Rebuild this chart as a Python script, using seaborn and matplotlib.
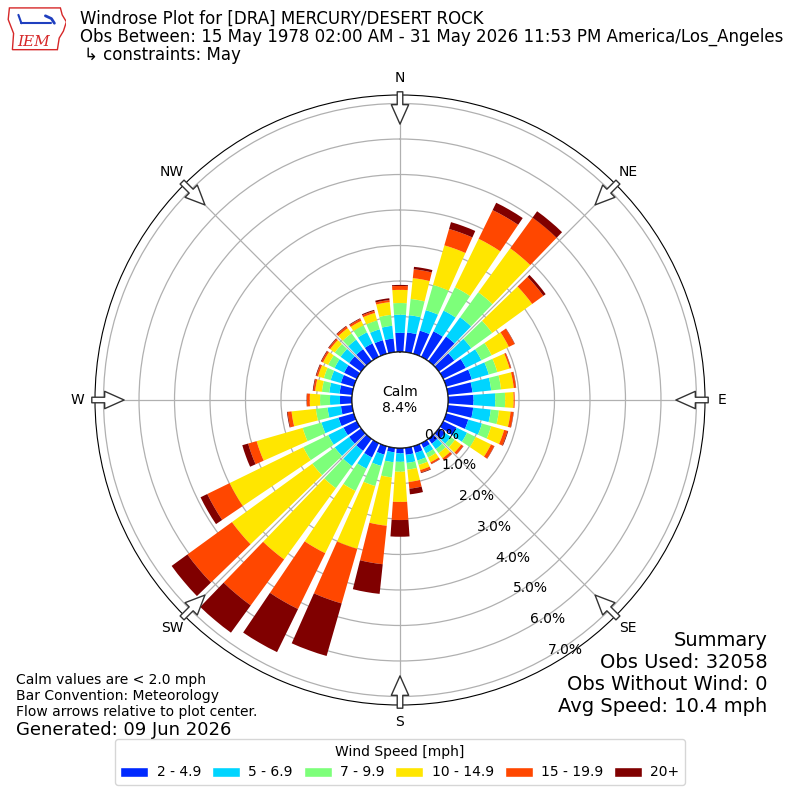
import numpy as np
import matplotlib
matplotlib.use("Agg")
import matplotlib.pyplot as plt
from matplotlib.patches import Patch, Circle, Polygon
import seaborn as sns

# wind directions (deg, meteorological) and percent of obs per speed bin
directions = list(range(0, 360, 10))
speed_bins = ["2 - 4.9", "5 - 6.9", "7 - 9.9", "10 - 14.9", "15 - 19.9", "20+"]

pct_2_5 = [0.54, 0.56, 0.68, 0.80, 0.86, 0.54, 0.71, 0.75, 0.70, 0.72, 0.72, 0.65,
           0.42, 0.22, 0.17, 0.15, 0.20, 0.20, 0.15, 0.13, 0.25, 0.45, 0.42, 0.42,
           0.42, 0.45, 0.32, 0.34, 0.36, 0.38, 0.40, 0.42, 0.42, 0.42, 0.40, 0.39]
pct_5_7 = [0.51, 0.49, 0.60, 0.65, 0.67, 0.59, 0.49, 0.50, 0.53, 0.61, 0.50, 0.40,
           0.33, 0.20, 0.19, 0.17, 0.22, 0.23, 0.24, 0.28, 0.33, 0.35, 0.53, 0.50,
           0.48, 0.50, 0.38, 0.28, 0.29, 0.30, 0.30, 0.30, 0.33, 0.35, 0.32, 0.36]
pct_7_10 = [0.33, 0.46, 0.74, 0.73, 0.87, 0.73, 0.32, 0.25, 0.28, 0.28, 0.23, 0.27,
            0.27, 0.14, 0.14, 0.13, 0.13, 0.19, 0.28, 0.43, 0.59, 0.70, 0.77, 0.78,
            0.78, 0.55, 0.33, 0.28, 0.21, 0.20, 0.20, 0.20, 0.22, 0.22, 0.26, 0.31]
pct_10_15 = [0.37, 0.59, 1.16, 1.52, 1.53, 1.39, 0.54, 0.36, 0.36, 0.24, 0.33, 0.38,
             0.48, 0.22, 0.18, 0.15, 0.15, 0.35, 0.85, 1.37, 1.84, 1.95, 2.48, 2.80,
             2.31, 1.35, 0.69, 0.29, 0.19, 0.17, 0.16, 0.16, 0.18, 0.14, 0.22, 0.36]
pct_15_20 = [0.11, 0.25, 0.48, 0.90, 1.07, 0.39, 0.18, 0.04, 0.06, 0.03, 0.08, 0.10,
             0.10, 0.07, 0.07, 0.05, 0.07, 0.19, 0.51, 1.09, 1.60, 1.75, 1.60, 1.55,
             0.70, 0.25, 0.11, 0.08, 0.05, 0.05, 0.05, 0.05, 0.06, 0.06, 0.06, 0.06]
pct_20_up = [0.03, 0.07, 0.20, 0.23, 0.22, 0.08, 0.01, 0.01, 0.01, 0.00, 0.01, 0.02,
             0.01, 0.01, 0.01, 0.01, 0.02, 0.16, 0.47, 0.84, 1.54, 1.35, 0.95, 0.55,
             0.21, 0.17, 0.02, 0.01, 0.02, 0.02, 0.02, 0.02, 0.02, 0.02, 0.03, 0.05]

calm_pct = 8.4
rticks = [0, 1, 2, 3, 4, 5, 6, 7]
compass = ["N", "NE", "E", "SE", "S", "SW", "W", "NW"]

sns.set_style("white", {"text.color": "black", "xtick.color": "black",
                        "ytick.color": "black", "axes.labelcolor": "black"})
colors = sns.color_palette(plt.cm.jet(np.linspace(0, 1, 7)[1:]))

fig = plt.figure(figsize=(8, 8), dpi=100)
ax = fig.add_axes([0.11875, 0.11875, 0.7625, 0.7625], projection="polar")
ax.set_theta_zero_location("N")
ax.set_theta_direction(-1)

theta = np.deg2rad(directions)
bottom = np.zeros(len(directions))
series = [pct_2_5, pct_5_7, pct_7_10, pct_10_15, pct_15_20, pct_20_up]
for vals, col in zip(series, colors):
    ax.bar(theta, vals, width=np.deg2rad(8), bottom=bottom, color=col,
           linewidth=0, zorder=2)
    bottom = bottom + np.array(vals)

rmax = 7.24
ax.set_ylim(0, rmax)
ax.set_rorigin(-1.352)
ax.set_axisbelow(True)
ax.grid(True, color="#b0b0b0", linewidth=0.9)
ax.set_yticks(rticks)
ax.set_yticklabels([f"{v:.1f}%" for v in rticks], fontsize=10, color="black")
ax.set_rlabel_position(150)
ax.set_xticks(np.deg2rad(np.arange(0, 360, 45)))
ax.set_xticklabels(compass, fontsize=10, color="black")
ax.tick_params(axis="x", pad=2)
ax.spines["polar"].set_color("black")

# calm hole outline (the hole itself is the rorigin offset)
ax.add_patch(Circle((0.5, 0.5), 48 / 610, transform=ax.transAxes, facecolor="none",
                    edgecolor="black", linewidth=1, zorder=2.2))
ax.text(0.5, 0.5, f"Calm\n{calm_pct:.1f}%", transform=ax.transAxes, ha="center",
        va="center", fontsize=10, zorder=6, color="black")

# radial labels redrawn on top of the bars (axis itself sits below)
fig.canvas.draw()
for lbl in ax.yaxis.get_ticklabels():
    ax.text(*lbl.get_position(), lbl.get_text(), transform=lbl.get_transform(),
            ha=lbl.get_ha(), va=lbl.get_va(), rotation=lbl.get_rotation(),
            fontsize=10, color="black", zorder=6)
    lbl.set_visible(False)

# flow arrows
for d in range(0, 360, 45):
    ax.annotate("", xy=(np.deg2rad(d), 6.42), xytext=(np.deg2rad(d), 7.33),
                arrowprops=dict(arrowstyle="simple,head_length=1.4,head_width=1.25,tail_width=0.4",
                                fc="white", ec="#333333", lw=1, shrinkA=0, shrinkB=0),
                annotation_clip=False, zorder=7)

# header
fig.text(0.1, 0.976, "Windrose Plot for [DRA] MERCURY/DESERT ROCK", fontsize=12, va="center")
fig.text(0.1, 0.954, "Obs Between: 15 May 1978 02:00 AM - 31 May 2026 11:53 PM America/Los_Angeles",
         fontsize=12, va="center")
fig.text(0.105, 0.931, "\u21b3 constraints: May", fontsize=12, va="center")

# logo (rough)
lax = fig.add_axes([0.008, 0.935, 0.075, 0.058])
lax.set_xlim(0, 1)
lax.set_ylim(0, 1)
lax.axis("off")
lax.add_patch(Polygon([[0.05, 0.95], [0.9, 0.95], [0.93, 0.8], [1.0, 0.65], [0.95, 0.45],
                       [0.88, 0.3], [0.85, 0.05], [0.1, 0.05], [0.12, 0.4], [0.03, 0.7]],
                      closed=True, fill=False, edgecolor="#d62728", linewidth=1))
lax.plot([0.25, 0.75], [0.62, 0.62], color="#1f3fbf", lw=1.5)
lax.plot([0.2, 0.25], [0.8, 0.62], color="#1f3fbf", lw=1.5)
lax.plot([0.65, 0.75, 0.8], [0.78, 0.72, 0.62], color="#1f3fbf", lw=2)
lax.text(0.45, 0.22, "IEM", color="#d62728", fontsize=11, family="serif",
         style="italic", ha="center", va="center")

# footnotes
fig.text(0.02, 0.150, "Calm values are < 2.0 mph", fontsize=10, va="center")
fig.text(0.02, 0.130, "Bar Convention: Meteorology", fontsize=10, va="center")
fig.text(0.02, 0.110, "Flow arrows relative to plot center.", fontsize=10, va="center")
fig.text(0.02, 0.087, "Generated: 09 Jun 2026", fontsize=13, va="center")

summary = ["Summary", "Obs Used: 32058", "Obs Without Wind: 0", "Avg Speed: 10.4 mph"]
for i, line in enumerate(summary):
    fig.text(0.959, 0.200 - i * 0.0275, line, fontsize=14, ha="right", va="center")

handles = [Patch(facecolor=c) for c in colors]
leg = fig.legend(handles, speed_bins, loc="lower center", bbox_to_anchor=(0.5, 0.01),
                 ncol=6, fontsize=10, title="Wind Speed [mph]", title_fontsize=10,
                 handlelength=2.0, handletextpad=0.6, columnspacing=0.8, frameon=True)
for t in leg.get_texts():
    t.set_color("black")
leg.get_title().set_color("black")

fig.savefig("out.png", dpi=100)
